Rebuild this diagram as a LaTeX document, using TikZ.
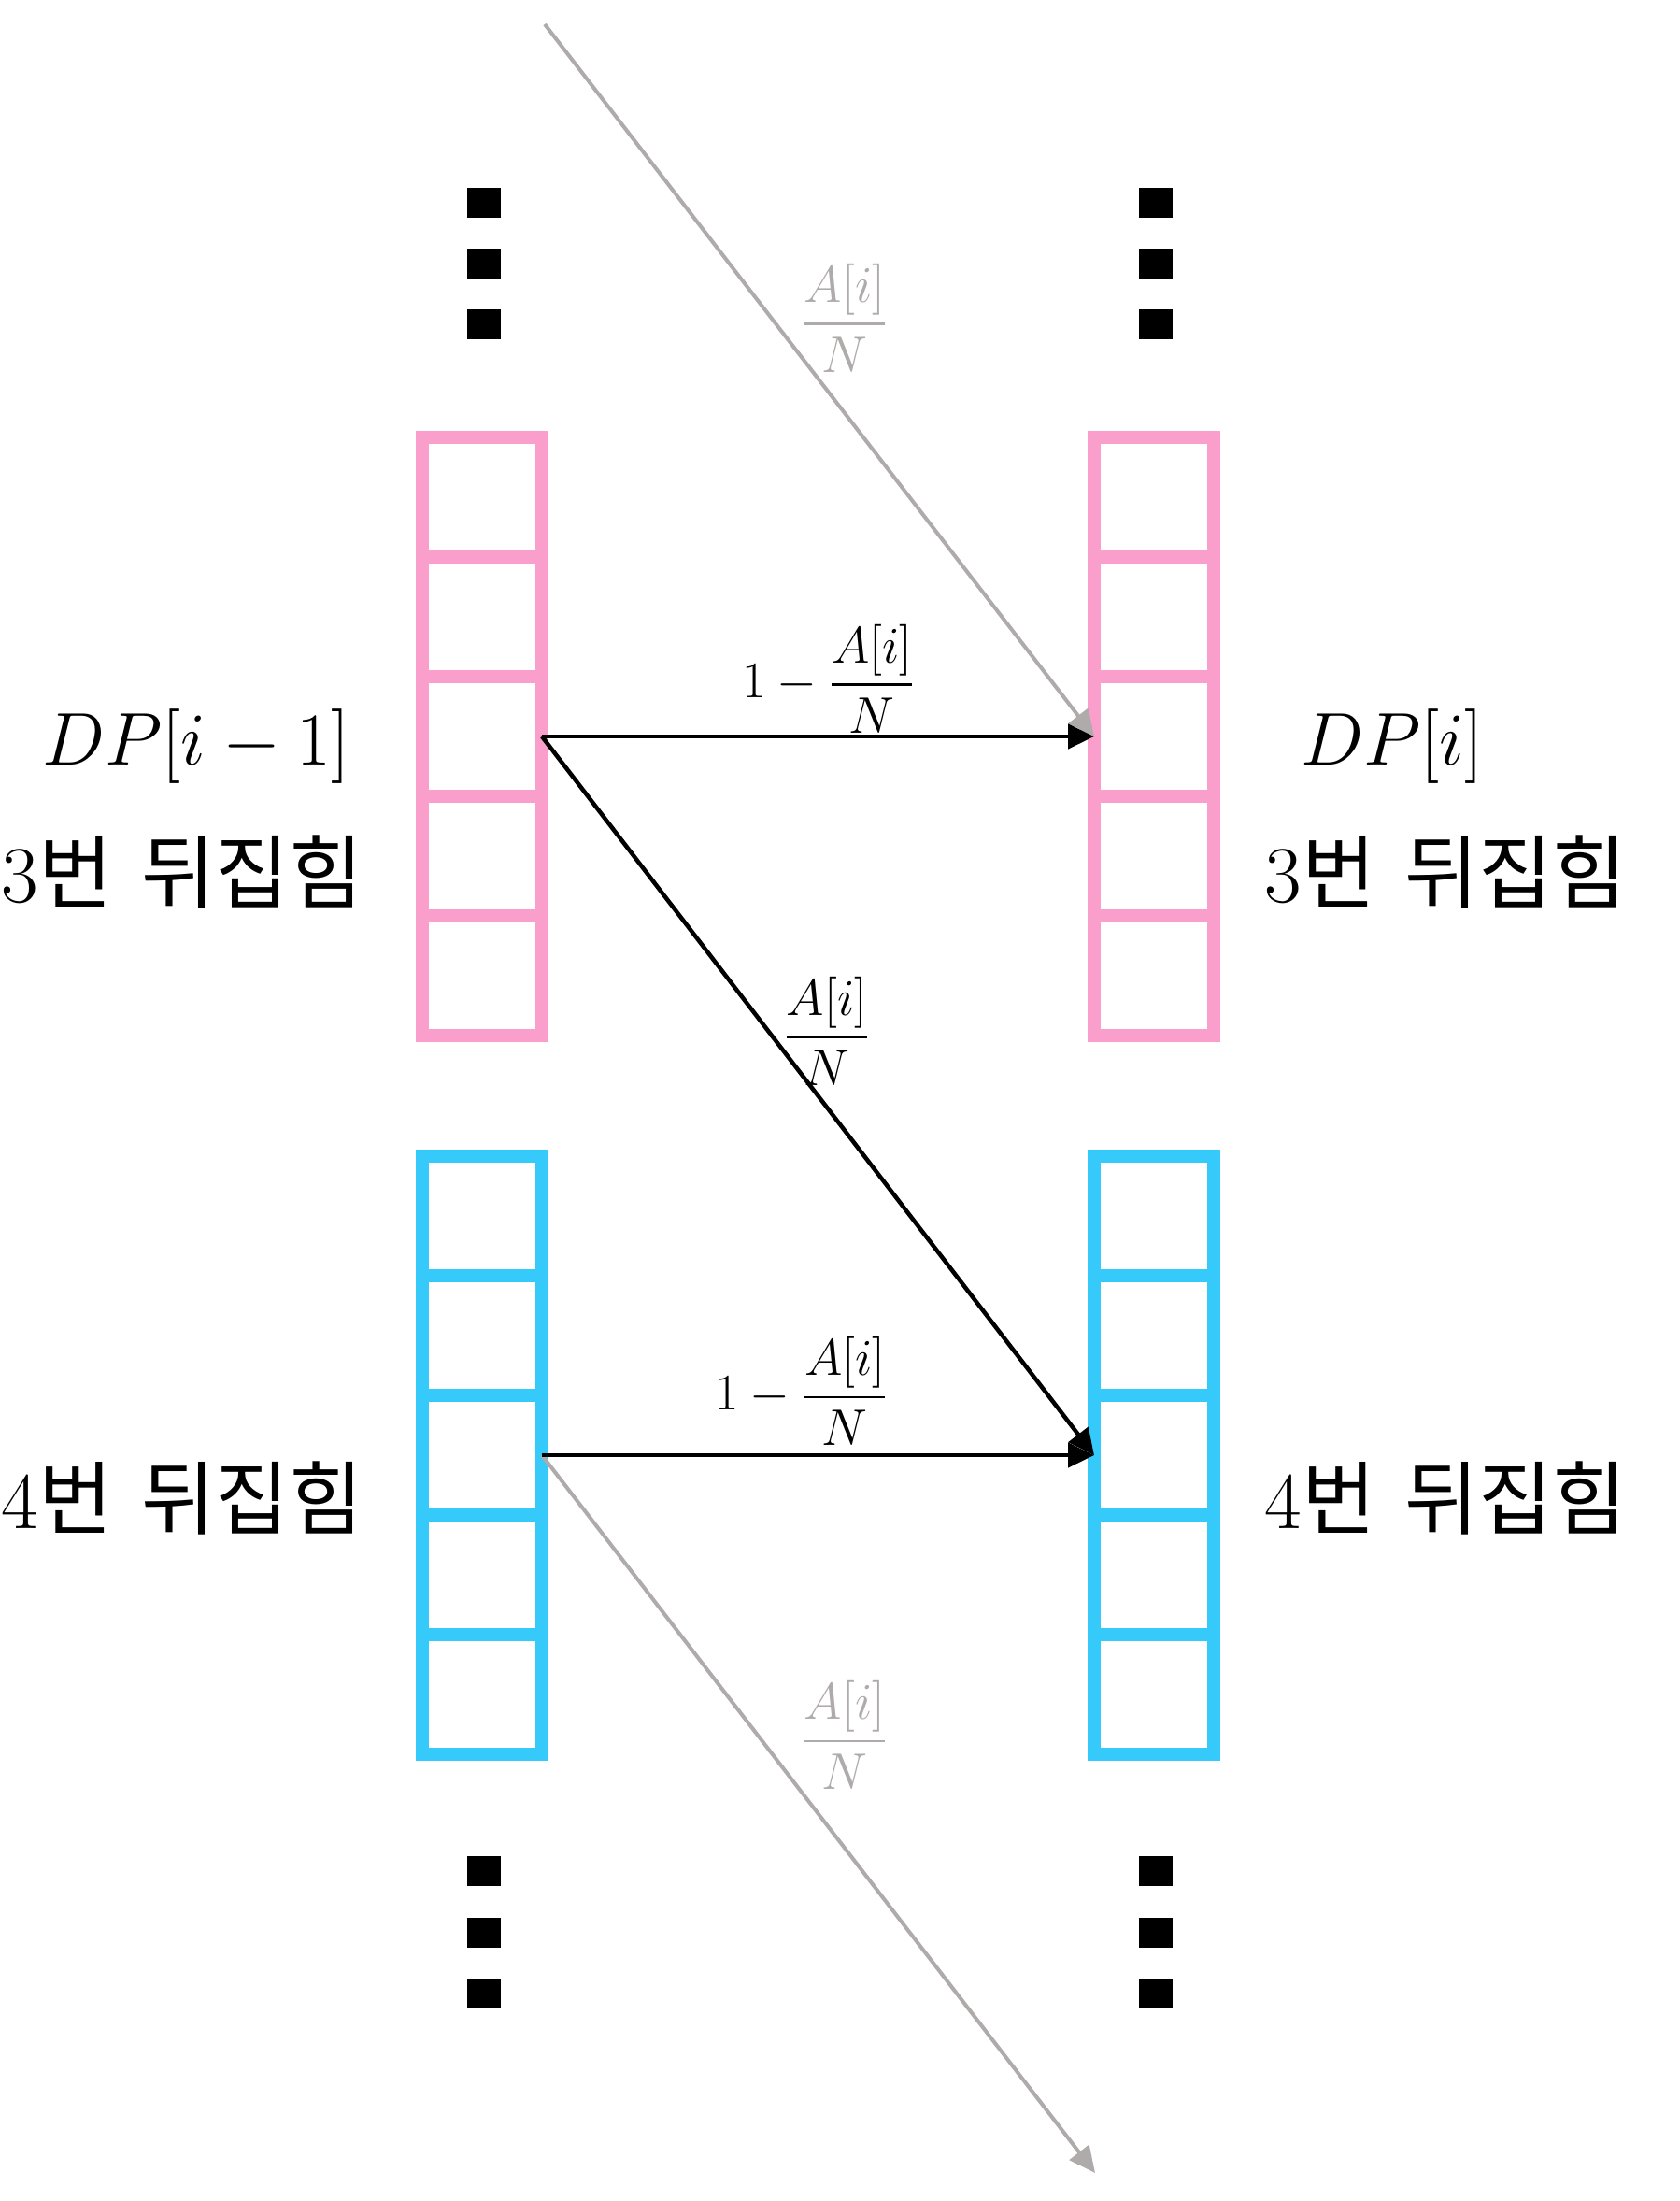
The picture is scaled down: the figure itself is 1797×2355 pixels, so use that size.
\documentclass[tikz,border=0pt]{standalone}
\usepackage{amsmath}
\usepackage{graphicx}
\usepackage{fontspec}
\newfontfamily\kr{Noto Sans CJK KR}
\usetikzlibrary{arrows.meta}
\definecolor{pinkc}{RGB}{250,158,204}
\definecolor{bluec}{RGB}{54,202,250}
\definecolor{greyc}{RGB}{175,171,171}
\newcommand{\fracscale}[1]{\scalebox{2.652}{$#1$}}
\newcommand{\dpscale}[1]{\scalebox{3.85}{$#1$}}
\newcommand{\flipword}[1]{#1{\kr 번}\hspace{0.36em}{\kr 뒤집힘}}
\begin{document}
\begin{tikzpicture}[x=1pt,y=-1pt,
  cell/.style={draw, line width=14pt, minimum width=128pt, minimum height=128pt, inner sep=0pt, outer sep=0pt},
  sqdot/.style={fill=black, minimum width=36pt, minimum height=32pt, inner sep=0pt, outer sep=0pt},
  blackarrow/.style={draw=black, line width=4.5pt, -{Triangle[length=28pt,width=26pt]}},
  greyarrow/.style={draw=greyc, line width=4pt, -{Triangle[length=28pt,width=26pt]}},
  fraclbl/.style={font=\fontsize{20.74}{25}\selectfont, inner sep=0pt},
  dplbl/.style={font=\fontsize{20.74}{25}\selectfont, inner sep=0pt, anchor=base},
  krlbl/.style={font=\fontsize{86}{103}\selectfont, inner sep=0pt, anchor=base}
]
\fill[white] (0,0) rectangle (1797,2355);
\useasboundingbox (0,0) rectangle (1797,2355);

% columns
\foreach \i in {1,...,5} {
  \node[cell, draw=pinkc] (pl\i) at (516, 404+128*\i) {};
  \node[cell, draw=pinkc] (pr\i) at (1235, 404+128*\i) {};
  \node[cell, draw=bluec] (bl\i) at (516, 1173+128*\i) {};
  \node[cell, draw=bluec] (br\i) at (1235, 1173+128*\i) {};
}

% dots
\foreach \y [count=\k] in {216.5,282,347} {
  \node[sqdot] (dtl\k) at (518,\y) {};
  \node[sqdot] (dtr\k) at (1236.5,\y) {};
}
\foreach \y [count=\k] in {2002,2068,2133} {
  \node[sqdot] (dbl\k) at (518,\y) {};
  \node[sqdot] (dbr\k) at (1236.5,\y) {};
}

% grey arrows
\coordinate (gtop) at (583,26);
\coordinate (gbot) at (1172,2325);
\draw[greyarrow] (gtop) -- (pr3.west);
\draw[greyarrow] (bl3.east) -- (gbot);

% black arrows
\draw[blackarrow] (pl3.east) -- (pr3.west);
\draw[blackarrow] (pl3.east) -- (br3.west);
\draw[blackarrow] (bl3.east) -- (br3.west);

% labels on arrows
\node[fraclbl, text=greyc] (gl1) at (904,340) {\fracscale{\dfrac{A[i]}{N}}};
\node[fraclbl] (bl1) at (887,726) {\fracscale{1-\dfrac{A[i]}{N}}};
\node[fraclbl] (bl2) at (885,1103) {\fracscale{\dfrac{A[i]}{N}}};
\node[fraclbl] (bl3lbl) at (858,1488) {\fracscale{1-\dfrac{A[i]}{N}}};
\node[fraclbl, text=greyc] (gl2) at (904,1856) {\fracscale{\dfrac{A[i]}{N}}};

% side labels
\node[dplbl] (dpl) at (210,818) {\dpscale{DP[i-1]}};
\node[dplbl] (dpr) at (1490,818) {\dpscale{DP[i]}};
\node[krlbl] (k3l) at (195,965) {\flipword{3}};
\node[krlbl] (k3r) at (1547,965) {\flipword{3}};
\node[krlbl] (k4l) at (195,1635) {\flipword{4}};
\node[krlbl] (k4r) at (1547,1635) {\flipword{4}};
\end{tikzpicture}
\end{document}
